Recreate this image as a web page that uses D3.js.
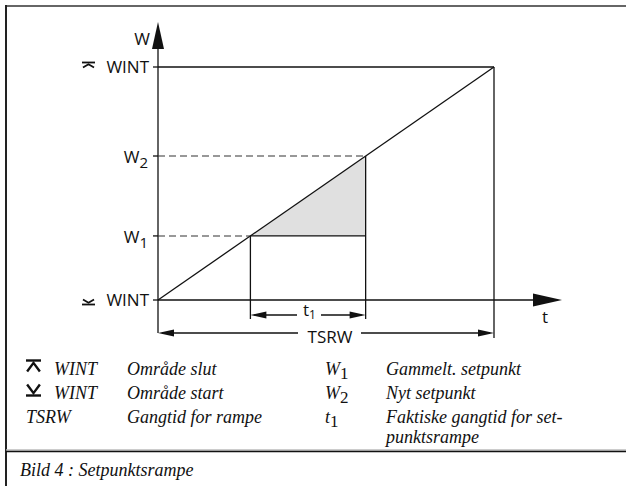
<!DOCTYPE html>
<html>
<head>
<meta charset="utf-8">
<script src="https://cdn.jsdelivr.net/npm/d3@7"></script>
<style>
  html, body { margin: 0; padding: 0; background: #fff; }
  svg { display: block; }
  .lbl { font-family: "Open Sans", "DejaVu Sans", sans-serif; font-size: 17px; fill: #111; }
  .leg { font-family: "Liberation Serif", "DejaVu Serif", serif; font-style: italic; font-size: 18px; fill: #111; }
</style>
</head>
<body>
<svg id="chart" width="626" height="486"></svg>
<script>
// Ramp: setpoint W rises linearly from WINT start to WINT end over TSRW
const rampTime = [0, 1];          // t, in units of TSRW
const rampValue = [0, 1];         // W, from WINT start (0) to WINT end (1)
const oldSetpoint = 0.275;        // W1
const newSetpoint = 0.618;        // W2
const axisLabels = { w: "W", t: "t", tsrw: "TSRW", t1: "t", t1Sub: "1" };
const levelLabels = [
  { key: "end",   value: 1,           text: "WINT", sub: "" },
  { key: "w2",    value: newSetpoint, text: "W",    sub: "2" },
  { key: "w1",    value: oldSetpoint, text: "W",    sub: "1" },
  { key: "start", value: 0,           text: "WINT", sub: "" }
];
const legendLeft = [
  { sym: "end",   name: "WINT", desc: "Område slut" },
  { sym: "start", name: "WINT", desc: "Område start" },
  { sym: null,    name: "TSRW", desc: "Gangtid for rampe" }
];
const legendRight = [
  { name: "W", sub: "1", desc: ["Gammelt. setpunkt"] },
  { name: "W", sub: "2", desc: ["Nyt setpunkt"] },
  { name: "t", sub: "1", desc: ["Faktiske gangtid for set-", "punktsrampe"] }
];
const caption = "Bild 4 : Setpunktsrampe";

const svg = d3.select("#chart");
const ink = "#111";

// frame of the figure box
svg.append("line").attr("x1", 6).attr("y1", 6).attr("x2", 626).attr("y2", 6)
  .attr("stroke", "#666").attr("stroke-width", 2);
svg.append("line").attr("x1", 6).attr("y1", 5).attr("x2", 6).attr("y2", 486)
  .attr("stroke", "#222").attr("stroke-width", 2);
svg.append("line").attr("x1", 6).attr("y1", 450).attr("x2", 626).attr("y2", 450)
  .attr("stroke", "#bbb").attr("stroke-width", 1.5);
svg.append("line").attr("x1", 6).attr("y1", 451.5).attr("x2", 626).attr("y2", 451.5)
  .attr("stroke", "#111").attr("stroke-width", 1.3);

const x = d3.scaleLinear().domain([0, 1]).range([158, 494]);
const y = d3.scaleLinear().domain([0, 1]).range([300, 67]);

// time at which the ramp reaches a value
const tAt = v => d3.scaleLinear().domain(rampValue).range(rampTime)(v);
const t1Start = tAt(oldSetpoint), t1End = tAt(newSetpoint);

const g = svg.append("g");

// shaded region between W1 and the ramp up to W2
g.append("path")
  .attr("d", d3.line()([[x(t1Start), y(oldSetpoint)], [x(t1End), y(oldSetpoint)], [x(t1End), y(newSetpoint)]]) + "Z")
  .attr("fill", "#e0e0e0");

const solid = (x1, y1, x2, y2) => g.append("line")
  .attr("x1", x1).attr("y1", y1).attr("x2", x2).attr("y2", y2)
  .attr("stroke", ink).attr("stroke-width", 1.3);
const dashed = (x1, y1, x2, y2) => solid(x1, y1, x2, y2)
  .attr("stroke-dasharray", "7,4").attr("stroke-width", 1.1).attr("stroke", "#333");

// axes
solid(x(0), 333, x(0), 45);
solid(x(0), y(0), 540, y(0));
g.append("path").attr("d", `M${x(0) - 6},49 L${x(0)},22 L${x(0) + 6},49 Z`).attr("fill", ink);
g.append("path").attr("d", `M533,${y(0) - 6.5} L562,${y(0)} L533,${y(0) + 6.5} Z`).attr("fill", ink);

// upper bound box
solid(x(0), y(1), x(1), y(1));
solid(x(1), y(1), x(1), 338);

// the ramp
solid(x(rampTime[0]), y(rampValue[0]), x(rampTime[1]), y(rampValue[1]));

// setpoint guides
dashed(x(0), y(newSetpoint), x(t1End), y(newSetpoint));
dashed(x(0), y(oldSetpoint), x(t1Start), y(oldSetpoint));
solid(x(t1Start), y(oldSetpoint), x(t1End), y(oldSetpoint));
solid(x(t1Start), y(oldSetpoint), x(t1Start), 319);
solid(x(t1End), y(newSetpoint), x(t1End), 319);

// ticks on W axis
levelLabels.forEach(d => solid(x(0) - 5, y(d.value), x(0), y(d.value)));

// dimension arrows
function dimension(xa, xb, yy, gapA, gapB) {
  solid(xa + 4, yy, gapA, yy);
  solid(gapB, yy, xb - 4, yy);
  g.append("path").attr("d", `M${xa},${yy} L${xa + 16},${yy - 3.5} L${xa + 16},${yy + 3.5} Z`).attr("fill", ink);
  g.append("path").attr("d", `M${xb},${yy} L${xb - 16},${yy - 3.5} L${xb - 16},${yy + 3.5} Z`).attr("fill", ink);
}
dimension(x(t1Start), x(t1End), 315, 297, 321);
dimension(x(0), x(1), 333, 298, 361);

// axis and dimension labels
const lblT1 = g.append("text").attr("class", "lbl").attr("x", 303).attr("y", 316).text(axisLabels.t1);
lblT1.append("tspan").attr("dy", 3).attr("font-size", 12).text(axisLabels.t1Sub);
g.append("text").attr("class", "lbl").attr("x", 330).attr("y", 343).attr("text-anchor", "middle").text(axisLabels.tsrw);
g.append("text").attr("class", "lbl").attr("x", 150).attr("y", 45).attr("text-anchor", "end").attr("font-size", 19).text(axisLabels.w);
g.append("text").attr("class", "lbl").attr("x", 545).attr("y", 323).attr("text-anchor", "middle").text(axisLabels.t);

// bound symbols: bar above an up-chevron (end), down-chevron above a bar (start)
function boundSymbol(parent, kind, cx, cy, w, h, sw) {
  const half = w / 2;
  if (kind === "end") {
    parent.append("line").attr("x1", cx - half).attr("x2", cx + half).attr("y1", cy - h / 2).attr("y2", cy - h / 2)
      .attr("stroke", ink).attr("stroke-width", sw);
    parent.append("path").attr("d", `M${cx - half * 0.85},${cy + h / 2} L${cx},${cy - h / 2 + sw} L${cx + half * 0.85},${cy + h / 2}`)
      .attr("fill", "none").attr("stroke", ink).attr("stroke-width", sw);
  } else {
    parent.append("line").attr("x1", cx - half).attr("x2", cx + half).attr("y1", cy + h / 2).attr("y2", cy + h / 2)
      .attr("stroke", ink).attr("stroke-width", sw);
    parent.append("path").attr("d", `M${cx - half * 0.85},${cy - h / 2} L${cx},${cy + h / 2 - sw} L${cx + half * 0.85},${cy - h / 2}`)
      .attr("fill", "none").attr("stroke", ink).attr("stroke-width", sw);
  }
}

levelLabels.forEach(d => {
  const t = g.append("text").attr("class", "lbl").attr("x", 149).attr("y", y(d.value) + 6)
    .attr("text-anchor", "end");
  if (d.sub) {
    t.attr("x", 148).attr("y", y(d.value) + 7).attr("font-size", 18);
    t.append("tspan").text(d.text);
    t.append("tspan").attr("dy", 5).attr("font-size", 15).text(d.sub);
  } else {
    t.text(d.text);
    boundSymbol(g, d.key, 88.5, y(d.value) + (d.key === "end" ? -2 : 2), 13, 5, 1.8);
  }
});

// legend
const leg = svg.append("g");
const rowY = [375, 399, 423, 443];
legendLeft.forEach((d, i) => {
  if (d.sym) {
    boundSymbol(leg, d.sym, 33.5, rowY[i] - 9, 15, 11, 2.4);
    leg.append("text").attr("class", "leg").attr("x", 54).attr("y", rowY[i]).text(d.name);
  } else {
    leg.append("text").attr("class", "leg").attr("x", 26).attr("y", rowY[i]).text(d.name);
  }
  leg.append("text").attr("class", "leg").attr("x", 127).attr("y", rowY[i]).text(d.desc);
});
legendRight.forEach((d, i) => {
  const t = leg.append("text").attr("class", "leg").attr("x", 325).attr("y", rowY[i]);
  t.append("tspan").text(d.name);
  t.append("tspan").attr("dy", 4).attr("font-style", "normal").attr("font-size", 17).text(d.sub);
  d.desc.forEach((line, j) => {
    leg.append("text").attr("class", "leg").attr("x", 386).attr("y", rowY[i + j]).text(line);
  });
});

// figure caption
svg.append("text").attr("class", "leg").attr("x", 20).attr("y", 476).text(caption);
</script>
</body>
</html>
